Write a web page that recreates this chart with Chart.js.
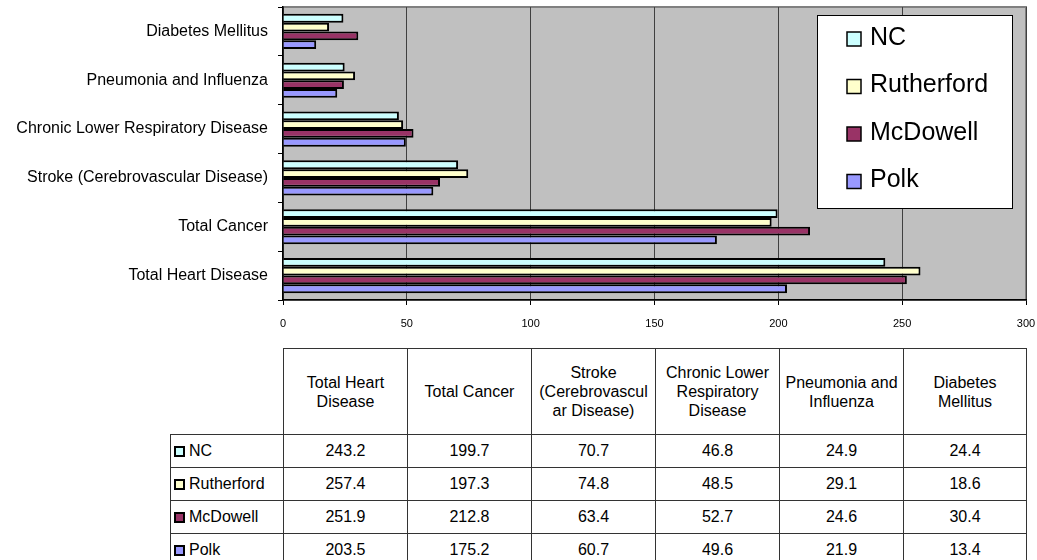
<!DOCTYPE html>
<html>
<head>
<meta charset="utf-8">
<script src="https://cdn.jsdelivr.net/npm/chart.js@4"></script>
<style>
  body { margin: 0; background: #fff; font-family: "Liberation Sans", Arial, sans-serif; }
  #wrap { position: relative; width: 1037px; height: 560px; overflow: hidden; }
  #chart { position: absolute; left: 0; top: 0; }
  #table-box { position: absolute; left: 170px; top: 348px; }
  table { border-collapse: collapse; table-layout: fixed; font-size: 16px; color: #000; }
  td, th { border: 1px solid #333; text-align: center; font-weight: normal; padding: 0 4px; }
  th { height: 85px; line-height: 19px; overflow-wrap: anywhere; }
  td { height: 32px; }
  th.blank { border: none; border-bottom: 1px solid #333; }
  td.name { text-align: left; padding-left: 3px; white-space: nowrap; }
  .mk { display: inline-block; width: 11px; height: 11px; box-sizing: border-box; border: 2px solid #000; margin-right: 4px; vertical-align: -1px; }
</style>
</head>
<body>
<div id="wrap">
  <canvas id="chart" width="1037" height="345"></canvas>
  <div id="table-box"></div>
</div>
<script>
// categories in table order (the chart shows them bottom to top)
const categories = [
    "Total Heart Disease",
    "Total Cancer",
    "Stroke (Cerebrovascular Disease)",
    "Chronic Lower Respiratory Disease",
    "Pneumonia and Influenza",
    "Diabetes Mellitus"
];
const seriesNames = ["NC", "Rutherford", "McDowell", "Polk"];
const ncValues = [243.2, 199.7, 70.7, 46.8, 24.9, 24.4];
const rutherfordValues = [257.4, 197.3, 74.8, 48.5, 29.1, 18.6];
const mcdowellValues = [251.9, 212.8, 63.4, 52.7, 24.6, 30.4];
const polkValues = [203.5, 175.2, 60.7, 49.6, 21.9, 13.4];
const xTicks = [0, 50, 100, 150, 200, 250, 300];

const seriesValues = [ncValues, rutherfordValues, mcdowellValues, polkValues];
const seriesColors = ["#CCFFFF", "#FFFFCC", "#993366", "#9999FF"];
const FONT = '"Liberation Sans", Arial, sans-serif';

// grey plot background + frame
const plotBackground = {
    id: 'plotBackground',
    beforeDraw(chart) {
        const { ctx, chartArea: a } = chart;
        ctx.save();
        ctx.fillStyle = '#C0C0C0';
        ctx.fillRect(a.left, a.top, a.right - a.left, a.bottom - a.top);
        ctx.strokeStyle = '#808080';
        ctx.lineWidth = 2;
        ctx.strokeRect(a.left, a.top, a.right - a.left, a.bottom - a.top);
        ctx.restore();
    }
};

// boxed legend sitting inside the plot, top right
const boxLegend = {
    id: 'boxLegend',
    afterDraw(chart) {
        const { ctx, chartArea: a } = chart;
        const left = a.right - 209, top = a.top + 8, w = 195, h = 193;
        ctx.save();
        ctx.fillStyle = '#fff';
        ctx.fillRect(left, top, w, h);
        ctx.strokeStyle = '#000';
        ctx.lineWidth = 1;
        ctx.strokeRect(left + 0.5, top + 0.5, w, h);
        ctx.font = '25px ' + FONT;
        ctx.textBaseline = 'middle';
        chart.data.datasets.forEach((ds, i) => {
            const y = top + 23 + i * 47.5;
            ctx.fillStyle = ds.backgroundColor;
            ctx.fillRect(left + 30, y - 6, 14, 14);
            ctx.lineWidth = 1.5;
            ctx.strokeStyle = '#000';
            ctx.strokeRect(left + 30, y - 6, 14, 14);
            ctx.fillStyle = '#000';
            ctx.fillText(ds.label, left + 53, y);
        });
        ctx.restore();
    }
};

const ctx = document.getElementById('chart').getContext('2d');
new Chart(ctx, {
    type: 'bar',
    data: {
        labels: categories,
        datasets: seriesNames.map((name, i) => ({
            label: name,
            data: seriesValues[i],
            backgroundColor: seriesColors[i],
            borderColor: '#000',
            borderWidth: 2,
            categoryPercentage: 0.72,
            barPercentage: 1.0
        }))
    },
    options: {
        indexAxis: 'y',
        responsive: false,
        animation: false,
        devicePixelRatio: 1,
        layout: { padding: { left: 0, right: 11, top: 7, bottom: 0 } },
        plugins: {
            legend: { display: false },
            tooltip: { enabled: false }
        },
        scales: {
            x: {
                min: 0,
                max: 300,
                afterBuildTicks: (scale) => { scale.ticks = xTicks.map(v => ({ value: v })); },
                afterFit: (scale) => {
                    scale.height = 45;
                    scale.paddingLeft = 0;
                    scale.paddingRight = 0;
                },
                border: { color: '#000', width: 1.5 },
                grid: { color: '#404040', lineWidth: 1, tickColor: '#000', tickLength: 5 },
                ticks: { color: '#000', padding: 12, font: { family: FONT, size: 11 } }
            },
            y: {
                reverse: true,
                afterFit: (scale) => {
                    scale.width = 283;
                    scale.paddingTop = 0;
                    scale.paddingBottom = 0;
                },
                border: { color: '#000', width: 1.5 },
                grid: { drawOnChartArea: false, tickColor: '#000', tickLength: 5 },
                ticks: { color: '#000', padding: 10, font: { family: FONT, size: 16 } }
            }
        }
    },
    plugins: [plotBackground, boxLegend]
});

// data table under the chart
function buildTable() {
    const colWidths = [113, 124, 124, 124, 124, 124, 123];
    let html = '<table><colgroup>';
    colWidths.forEach(w => { html += `<col style="width:${w}px">`; });
    html += '</colgroup><tr><th class="blank"></th>';
    categories.forEach(c => { html += `<th>${c}</th>`; });
    html += '</tr>';
    seriesNames.forEach((name, i) => {
        html += `<tr><td class="name"><span class="mk" style="background:${seriesColors[i]}"></span>${name}</td>`;
        seriesValues[i].forEach(v => { html += `<td>${v.toFixed(1)}</td>`; });
        html += '</tr>';
    });
    html += '</table>';
    document.getElementById('table-box').innerHTML = html;
}
buildTable();
</script>
</body>
</html>
